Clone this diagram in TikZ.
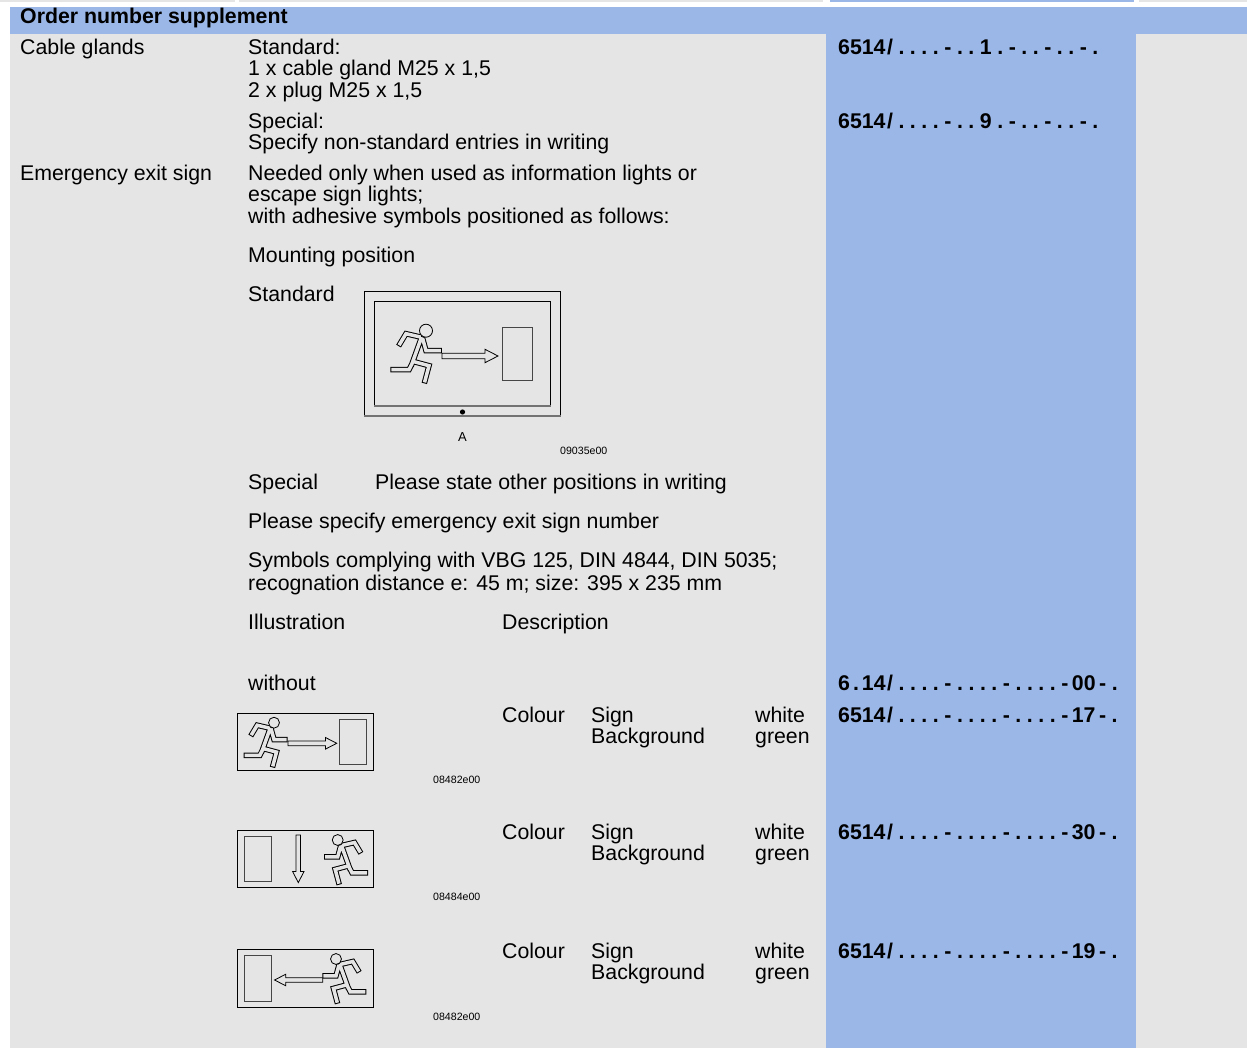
\documentclass[tikz,border=0pt]{standalone}
\usepackage{fontspec}
\setmainfont{Liberation Sans}
\usepackage{tikz}
\usetikzlibrary{positioning}
\definecolor{sheetgrey}{RGB}{229,229,229}
\definecolor{colblue}{RGB}{155,183,232}
\definecolor{doorgrey}{RGB}{70,70,70}
\newcommand\spaced[1]{{\addfontfeature{LetterSpace=26}#1}}
\newcommand\gap{\kern3.5pt}
\tikzstyle{txt} = [inner sep=0pt, anchor=base west, align=left, font=\fontsize{21.3}{21.5}\selectfont]
\tikzstyle{ordno} = [txt, font=\fontsize{21.3}{21.5}\selectfont\bfseries]
\tikzstyle{figno} = [inner sep=0pt, anchor=base west, font=\fontsize{10.6}{12}\selectfont]
\tikzstyle{door} = [draw=doorgrey, line width=1pt]
\tikzset{
  pics/runner/.style={code={
    \path[preaction={draw=black, line width=5.5pt, line cap=rect, line join=miter},
          draw=sheetgrey, line width=3.5pt, line cap=rect, line join=miter]
      (-5,-8) -- (-14,-33)
      (-7,-6) -- (-20,-3) -- (-26,-13)
      (-3,-9) -- (0,-20) -- (13,-20)
      (-14,-33) -- (-17,-39) -- (-33,-39)
      (-12,-31) -- (3,-35) -- (-1,-50);
    \draw[fill=sheetgrey, line width=0.8pt] (0,0) circle (6.5);
  }},
  pics/blockarrow/.style={code={
    \draw[fill=sheetgrey, line width=0.8pt] (0,-2.7) -- (43,-2.7) -- (43,-6.7) -- (56,0)
      -- (43,6.7) -- (43,2.7) -- (0,2.7) -- cycle;
  }}
}

\begin{document}
\begin{tikzpicture}[x=1pt,y=1pt]
        \useasboundingbox (0,0) rectangle (1247,-1048);
        % table background
        \fill[sheetgrey] (0,0) rectangle (235,-2);
        \fill[sheetgrey] (239,0) rectangle (823,-2);
        \fill[colblue] (830,0) rectangle (1134,-2);
        \fill[sheetgrey] (1139,0) rectangle (1247,-2);
        \fill[colblue] (10,-7) rectangle (1247,-34);
        \fill[sheetgrey] (10,-34) rectangle (1247,-1048);
        \fill[colblue] (826,-34) rectangle (1136,-1048);

        % multi-line nodes sit on their last line
        \node (title) [ordno] at (20,-23.5) {Order number supplement};
        \node (glands) [txt] at (20,-54.5) {Cable glands};
        \node (glands-std) [txt, right=228pt of glands.base west, anchor=base west, yshift=-43pt] {Standard:\\1 x cable gland M25 x 1,5\\2 x plug M25 x 1,5};
        \node (glands-spec) [txt, below=52.5pt of glands-std.base west, anchor=base west] {Special:\\Specify non-standard entries in writing};
        \node (ordno-std) [ordno, right=590pt of glands.base west, xshift=228pt, anchor=base west] {6514\kern1.5pt\spaced{/....-..1.-..-..-.}};
        \node (ordno-spec) [ordno, below=74pt of ordno-std.base west, anchor=base west] {6514\kern1.5pt\spaced{/....-..9.-..-..-.}};
        \node (exitsign) [txt, below=126pt of glands.base west, anchor=base west] {Emergency exit sign};
        \node (exit-note) [txt, right=228pt of exitsign.base west, anchor=base west, yshift=-43pt] {Needed only when used as information lights or\\escape sign lights;\\with adhesive symbols positioned as follows:};
        \node (mounting) [txt, below=39pt of exit-note.base west, anchor=base west] {Mounting position};
        \node (mount-std) [txt, below=39pt of mounting.base west, anchor=base west] {Standard};
        \node (mount-spec) [txt, below=188pt of mount-std.base west, anchor=base west] {Special};
        \node (mount-spec-note) [txt, right=127pt of mount-spec.base west, anchor=base west] {Please state other positions in writing};
        \node (specify) [txt, below=39pt of mount-spec.base west, anchor=base west] {Please specify emergency exit sign number};
        \node (symbols) [txt, below=62pt of specify.base west, anchor=base west] {Symbols complying with VBG 125, DIN 4844, DIN 5035;\\[1.5pt]recognation distance e: 45 m; size: 395 x 235 mm};
        \node (illus) [txt, below=39pt of symbols.base west, anchor=base west] {Illustration};
        \node (descr) [txt, right=254pt of illus.base west, anchor=base west] {Description};
        \node (without) [txt, below=61pt of illus.base west, anchor=base west] {without};
        \node (ordno-none) [ordno, right=590pt of without.base west, anchor=base west] {6\kern3pt.\kern3pt14\kern1.5pt\spaced{/....-....-....-}\gap 00\gap\spaced{-.}};

        \node (colour-1) [txt, below=92.5pt of descr.base west, anchor=base west] {Colour};
        \node (part-1) [txt, right=89pt of colour-1.base west, anchor=base west, yshift=-21.5pt] {Sign\\Background};
        \node (shade-1) [txt, right=253pt of colour-1.base west, anchor=base west, yshift=-21.5pt] {white\\green};
        \node (ordno-1) [ordno, right=336pt of colour-1.base west, anchor=base west] {6514\kern1.5pt\spaced{/....-....-....-}\gap 17\gap\spaced{-.}};
        \node (colour-2) [txt, below=117pt of colour-1.base west, anchor=base west] {Colour};
        \node (part-2) [txt, right=89pt of colour-2.base west, anchor=base west, yshift=-21.5pt] {Sign\\Background};
        \node (shade-2) [txt, right=253pt of colour-2.base west, anchor=base west, yshift=-21.5pt] {white\\green};
        \node (ordno-2) [ordno, right=336pt of colour-2.base west, anchor=base west] {6514\kern1.5pt\spaced{/....-....-....-}\gap 30\gap\spaced{-.}};
        \node (colour-3) [txt, below=119pt of colour-2.base west, anchor=base west] {Colour};
        \node (part-3) [txt, right=89pt of colour-3.base west, anchor=base west, yshift=-21.5pt] {Sign\\Background};
        \node (shade-3) [txt, right=253pt of colour-3.base west, anchor=base west, yshift=-21.5pt] {white\\green};
        \node (ordno-3) [ordno, right=336pt of colour-3.base west, anchor=base west] {6514\kern1.5pt\spaced{/....-....-....-}\gap 19\gap\spaced{-.}};

        % mounting sketch
        \draw[line width=1pt] (364,-292) rectangle (560.5,-416.5);
        \draw[line width=2.5pt, black!55] (364,-416) -- (560.5,-416);
        \draw[line width=1pt] (374,-301.5) rectangle (550.5,-406.5);
        \draw[line width=2.5pt, black!55] (374,-406) -- (550.5,-406);
        \fill (462.5,-412) circle (2.6);
        \pic at (426,-330.7) {runner};
        \pic at (442,-356) {blockarrow};
        \draw[door] (502,-328) rectangle (532.7,-380);
        \node (fig-a) [inner sep=0pt, anchor=base, font=\fontsize{13}{15}\selectfont] at (462.5,-441.5) {A};
        \node (fig-no-0) [figno] at (560,-454.5) {09035e00};

        % sign, arrow to the right
        \draw[line width=1pt] (237.3,-713.3) rectangle (373.7,-770.3);
        \pic[scale=0.84] at (274,-722.7) {runner};
        \pic[scale=0.87] at (288,-743.3) {blockarrow};
        \draw[door] (339.3,-719.3) rectangle (366,-764.3);
        \node (fig-no-1) [figno] at (433,-783) {08482e00};

        % sign, arrow down
        \draw[line width=1pt] (237,-830) rectangle (373.7,-887.3);
        \pic[xscale=-0.84, yscale=0.84] at (337.7,-840) {runner};
        \pic[scale=0.85, rotate=-90] at (298.3,-835) {blockarrow};
        \draw[door] (244.7,-836) rectangle (271.7,-881.7);
        \node (fig-no-2) [figno] at (433,-900) {08484e00};

        % sign, arrow to the left
        \draw[line width=1pt] (237,-949.3) rectangle (373.7,-1007);
        \pic[xscale=-0.84, yscale=0.84] at (336,-959) {runner};
        \pic[scale=0.86, rotate=180] at (322.7,-980) {blockarrow};
        \draw[door] (244.7,-955) rectangle (271.7,-1001);
        \node (fig-no-3) [figno] at (433,-1020) {08482e00};
    \end{tikzpicture}
\end{document}
